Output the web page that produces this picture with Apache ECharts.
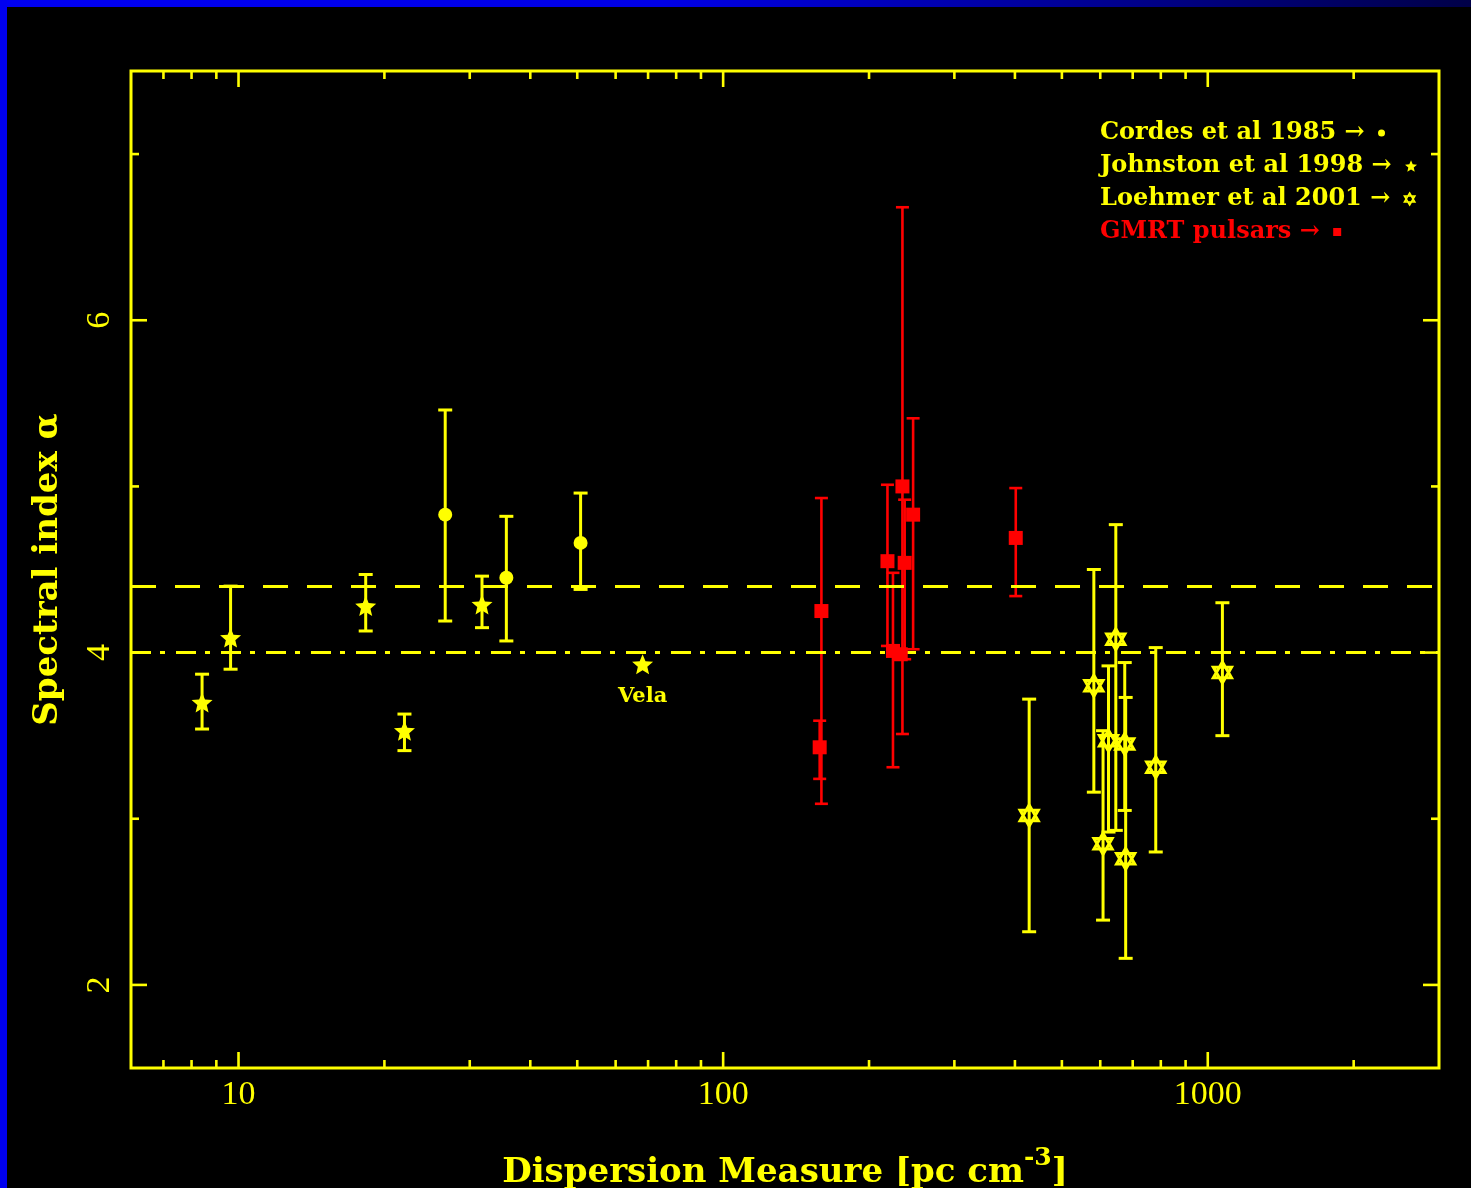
<!DOCTYPE html>
<html>
<head>
<meta charset="utf-8">
<script src="https://cdn.jsdelivr.net/npm/echarts@6/dist/echarts.min.js"></script>
<style>
html,body{margin:0;padding:0;background:#000;}
#chart{width:1471px;height:1188px;}
</style>
</head>
<body>
<div id="chart"></div>
<script>
// ---------------- data ----------------
const cordesDM    = [26.7, 35.7, 50.8];
const cordesAlpha = [4.83, 4.45, 4.66];
const cordesLo    = [4.19, 4.07, 4.38];
const cordesHi    = [5.46, 4.82, 4.96];

const johnstonDM     = [8.41, 9.63, 18.3, 22.0, 31.8, 68.2];
const johnstonAlpha  = [3.70, 4.09, 4.28, 3.53, 4.29, 3.93];
const johnstonLo     = [3.54, 3.90, 4.13, 3.41, 4.15, null];
const johnstonHi     = [3.87, 4.40, 4.47, 3.63, 4.46, null];
const johnstonLabels = ['', '', '', '', '', 'Vela'];

const loehmerDM    = [428, 582, 608, 624, 646, 674, 677, 781, 1072];
const loehmerAlpha = [3.02, 3.80, 2.85, 3.47, 4.08, 3.45, 2.76, 3.31, 3.88];
const loehmerLo    = [2.32, 3.16, 2.39, 2.92, 2.93, 3.05, 2.16, 2.80, 3.50];
const loehmerHi    = [3.72, 4.50, 3.53, 3.92, 4.77, 3.94, 3.73, 4.03, 4.30];

const gmrtDM    = [159.5, 158.2, 218.3, 224.1, 232.5, 234.4, 236.9, 246.6, 401.6];
const gmrtAlpha = [4.25, 3.43, 4.55, 4.01, 3.99, 5.00, 4.54, 4.83, 4.69];
const gmrtLo    = [3.09, 3.24, 4.04, 3.31, null, 3.51, 3.96, 4.02, 4.34];
const gmrtHi    = [4.93, 3.59, 5.01, 4.48, null, 6.68, 4.92, 5.41, 4.99];

const seriesNames = ['Cordes et al 1985', 'Johnston et al 1998', 'Loehmer et al 2001', 'GMRT pulsars'];
const refDashed  = 4.4;
const refDashDot = 4.0;

const xLabelTicks = [10, 100, 1000];
const xMinorTicks = [7, 8, 9, 20, 30, 40, 50, 60, 70, 80, 90, 200, 300, 400, 500, 600, 700, 800, 900, 2000];
const yLabelTicks = [2, 4, 6];
const yMinorTicks = [3, 5, 7];

const xRange = [6, 3000];
const yRange = [1.5, 7.5];

// ---------------- styling ----------------
const YEL = '#ffff00';
const RED = '#ff0000';
const SERIF = '"DejaVu Serif", serif';
const NUMFONT = '"Liberation Serif", serif';

const STAR = 'path://M0,-1 L0.2645,-0.364 L0.951,-0.309 L0.428,0.139 L0.588,0.809 L0,0.45 L-0.588,0.809 L-0.428,0.139 L-0.951,-0.309 L-0.2645,-0.364 Z';
const HEXAGRAM = 'path://M0,-1 L0.866,0.5 L-0.866,0.5 Z M0,1 L0.866,-0.5 L-0.866,-0.5 Z';

function errRender(color, lw, cap) {
  return function (params, api) {
    const x = api.value(0);
    const pLo = api.coord([x, api.value(1)]);
    const pHi = api.coord([x, api.value(2)]);
    const h = cap / 2;
    const st = { stroke: color, lineWidth: lw };
    return { type: 'group', children: [
      { type: 'line', shape: { x1: pLo[0], y1: pLo[1], x2: pHi[0], y2: pHi[1] }, style: st },
      { type: 'line', shape: { x1: pLo[0] - h, y1: pLo[1], x2: pLo[0] + h, y2: pLo[1] }, style: st },
      { type: 'line', shape: { x1: pHi[0] - h, y1: pHi[1], x2: pHi[0] + h, y2: pHi[1] }, style: st }
    ]};
  };
}

function errSeries(dm, lo, hi, color, lw, cap) {
  const data = [];
  dm.forEach((d, i) => { if (lo[i] != null) data.push([d, lo[i], hi[i]]); });
  return { type: 'custom', renderItem: errRender(color, lw, cap), data: data,
           encode: { x: 0, y: [1, 2] }, z: 3, silent: true };
}

function tickSeries(values, axis, len) {
  return {
    type: 'custom', silent: true, z: 4,
    data: axis === 'x' ? values.map(v => [v, 4]) : values.map(v => [10, v]),
    renderItem: function (params, api) {
      const cs = params.coordSys;
      const st = { stroke: YEL, lineWidth: 2.6 };
      if (axis === 'x') {
        const px = api.coord([api.value(0), 4])[0];
        const b = cs.y + cs.height, t = cs.y;
        return { type: 'group', children: [
          { type: 'line', shape: { x1: px, y1: b, x2: px, y2: b - len }, style: st },
          { type: 'line', shape: { x1: px, y1: t, x2: px, y2: t + len }, style: st }
        ]};
      } else {
        const py = api.coord([10, api.value(1)])[1];
        const l = cs.x, r = cs.x + cs.width;
        return { type: 'group', children: [
          { type: 'line', shape: { x1: l, y1: py, x2: l + len, y2: py }, style: st },
          { type: 'line', shape: { x1: r, y1: py, x2: r - len, y2: py }, style: st }
        ]};
      }
    }
  };
}

function pts(dm, a) { return dm.map((d, i) => [d, a[i]]); }

const johnstonData = johnstonDM.map((d, i) => {
  if (johnstonLabels[i]) {
    return { value: [d, johnstonAlpha[i]],
      label: { show: true, formatter: johnstonLabels[i], position: 'bottom', distance: 12,
               color: YEL, fontFamily: SERIF, fontWeight: 'bold', fontSize: 21 } };
  }
  return [d, johnstonAlpha[i]];
});

// one legend block per row so that each row is left-aligned with its icon after the text
const legendRowTop = [121, 154, 187, 220];
const legendIconSize = [7, 12, 12, 8];
const legendTextColor = [YEL, YEL, YEL, RED];
const legends = seriesNames.map((n, i) => ({
  orient: 'vertical', left: 1100, top: legendRowTop[i], align: 'right', padding: 0,
  itemWidth: legendIconSize[i], itemHeight: legendIconSize[i], selectedMode: false,
  formatter: s => s + ' \u2192\u00a0',
  textStyle: { color: legendTextColor[i], fontFamily: SERIF, fontWeight: 'bold', fontSize: 24 },
  itemStyle: i === 2 ? { borderWidth: 1.6 } : {},
  data: [n]
}));

const chart = echarts.init(document.getElementById('chart'), null, { renderer: 'canvas' });

const option = {
  backgroundColor: '#000',
  animation: false,
  graphic: [
    { type: 'rect', left: 0, top: 0, shape: { width: 1471, height: 7 }, z: 100,
      style: { fill: new echarts.graphic.LinearGradient(0, 0, 1, 0, [
        { offset: 0, color: '#0000f2' }, { offset: 0.45, color: '#0000e6' },
        { offset: 0.75, color: '#000090' }, { offset: 1, color: '#000048' }]) } },
    { type: 'rect', left: 0, top: 0, shape: { width: 7, height: 1188 }, z: 100,
      style: { fill: '#0000f0' } }
  ],
  grid: { left: 131, top: 71, width: 1308, height: 997, show: true, containLabel: false,
          outerBoundsMode: 'none',
          borderColor: YEL, borderWidth: 3, backgroundColor: 'transparent' },
  legend: legends,
  xAxis: {
    type: 'log', logBase: 10, min: xRange[0], max: xRange[1],
    axisLine: { show: false }, axisTick: { show: false }, splitLine: { show: false },
    axisLabel: {
      color: YEL, fontFamily: NUMFONT, fontSize: 34, margin: 10,
      formatter: function (v) {
        const r = Math.round(v);
        return (xLabelTicks.indexOf(r) >= 0 && Math.abs(v - r) < 1e-6) ? String(r) : '';
      }
    },
    name: '{n|Dispersion Measure [pc cm}{s|-3}{n|]}',
    nameLocation: 'middle', nameGap: 78,
    nameTextStyle: {
      rich: {
        n: { color: YEL, fontFamily: SERIF, fontWeight: 'bold', fontSize: 34, lineHeight: 44, verticalAlign: 'bottom' },
        s: { color: YEL, fontFamily: SERIF, fontWeight: 'bold', fontSize: 25, lineHeight: 25, verticalAlign: 'top' }
      }
    }
  },
  yAxis: {
    type: 'value', min: yRange[0], max: yRange[1], interval: 0.5,
    axisLine: { show: false }, axisTick: { show: false }, splitLine: { show: false },
    axisLabel: {
      color: YEL, fontFamily: NUMFONT, fontSize: 34, rotate: 90, margin: 14,
      formatter: function (v) {
        return yLabelTicks.indexOf(v) >= 0 ? String(v) : '';
      }
    },
    name: 'Spectral index \u03b1', nameLocation: 'middle', nameGap: 66,
    nameTextStyle: { color: YEL, fontFamily: SERIF, fontWeight: 'bold', fontSize: 34 }
  },
  series: [
    { type: 'line', data: [], silent: true, z: 1,
      markLine: {
        silent: true, symbol: ['none', 'none'], label: { show: false }, animation: false,
        lineStyle: { color: YEL, width: 3 },
        data: [
          { yAxis: refDashed, lineStyle: { type: [25, 19], color: YEL, width: 3 } },
          { yAxis: refDashDot, lineStyle: { type: [20, 9, 5, 11], color: YEL, width: 3 } }
        ]
      }
    },
    tickSeries(xLabelTicks, 'x', 16),
    tickSeries(xMinorTicks, 'x', 8),
    tickSeries(yLabelTicks, 'y', 16),
    tickSeries(yMinorTicks, 'y', 8),
    errSeries(cordesDM, cordesLo, cordesHi, YEL, 3, 14),
    errSeries(johnstonDM, johnstonLo, johnstonHi, YEL, 3, 14),
    errSeries(loehmerDM, loehmerLo, loehmerHi, YEL, 3, 14),
    errSeries(gmrtDM, gmrtLo, gmrtHi, RED, 2.6, 13),
    { name: seriesNames[0], type: 'scatter', z: 5, data: pts(cordesDM, cordesAlpha),
      symbol: 'circle', symbolSize: 14, itemStyle: { color: YEL, opacity: 1 } },
    { name: seriesNames[1], type: 'scatter', z: 5, data: johnstonData,
      symbol: STAR, symbolSize: 21, symbolKeepAspect: true, itemStyle: { color: YEL, opacity: 1 } },
    { name: seriesNames[2], type: 'scatter', z: 5, data: pts(loehmerDM, loehmerAlpha),
      symbol: HEXAGRAM, symbolSize: 21, symbolKeepAspect: true,
      itemStyle: { color: 'rgba(0,0,0,0)', borderColor: YEL, borderWidth: 3, opacity: 1 } },
    { name: seriesNames[3], type: 'scatter', z: 5, data: pts(gmrtDM, gmrtAlpha),
      symbol: 'rect', symbolSize: 14, itemStyle: { color: RED, opacity: 1 } }
  ]
};
chart.setOption(option);
</script>
</body>
</html>
